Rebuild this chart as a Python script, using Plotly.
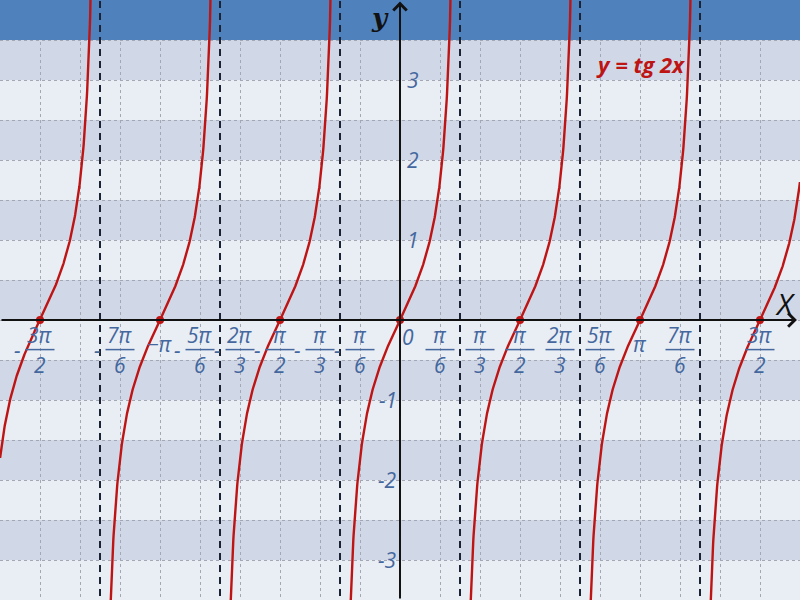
import numpy as np
import plotly.graph_objects as go

PI = np.pi

# values
x_min, x_max = -5 * PI / 3, 5 * PI / 3
y_min, y_max = -3.5, 4.0
zeros_x = [-3 * PI / 2, -PI, -PI / 2, 0, PI / 2, PI, 3 * PI / 2]
asymptotes_x = [-5 * PI / 4, -3 * PI / 4, -PI / 4, PI / 4, 3 * PI / 4, 5 * PI / 4]
y_ticks = [-3, -2, -1, 1, 2, 3]
frac_pos = [-3 / 2, -7 / 6, -5 / 6, -2 / 3, -1 / 2, -1 / 3, -1 / 6,
            1 / 6, 1 / 3, 1 / 2, 2 / 3, 5 / 6, 7 / 6, 3 / 2]
frac_num = ["3π", "7π", "5π", "2π", "π", "π", "π", "π", "π", "π", "2π", "5π", "7π", "3π"]
frac_den = ["2", "6", "6", "3", "2", "3", "6", "6", "3", "2", "3", "6", "6", "2"]
pi_pos = [-1, 1]
pi_text = ["−π", "π"]

RED = "#BE1414"
BLUE_TXT = "#44679E"
DARK_BAND = "#D0D8E8"
LIGHT_BAND = "#E9EDF4"
HEADER = "#4F81BD"
GRID = "#A3A8B4"

# y = tg 2x, one branch per period
xs, ys = [], []
edges = [x_min] + asymptotes_x + [x_max]
for a, b in zip(edges[:-1], edges[1:]):
    t = np.linspace(a + 1e-3, b - 1e-3, 400)
    v = np.tan(2 * t)
    keep = np.abs(v) < 6
    xs += list(t[keep]) + [None]
    ys += list(v[keep]) + [None]

fig = go.Figure()
fig.add_trace(go.Scatter(x=xs, y=ys, mode="lines",
                         line=dict(color=RED, width=2.4), hoverinfo="skip"))
fig.add_trace(go.Scatter(x=zeros_x, y=[0] * len(zeros_x), mode="markers",
                         marker=dict(color=RED, size=8), hoverinfo="skip"))

shapes = []
# striped background
for k in range(-7, 7):
    lo = k * 0.5
    if k % 2 == 0:
        shapes.append(dict(type="rect", xref="x", yref="y", x0=x_min - 1, x1=x_max + 1,
                           y0=lo, y1=lo + 0.5, fillcolor=DARK_BAND, line_width=0, layer="below"))
shapes.append(dict(type="rect", xref="x", yref="y", x0=x_min - 1, x1=x_max + 1,
                   y0=3.5, y1=y_max + 1, fillcolor=HEADER, line_width=0, layer="between"))
for a in asymptotes_x:
    shapes.append(dict(type="line", xref="x", yref="y", x0=a, x1=a, y0=y_min - 1, y1=y_max + 1,
                       line=dict(color="#1B2233", width=2, dash="7px,5px"), layer="between"))

annotations = []
# axes with arrows
annotations.append(dict(x=x_max - 0.04, y=0, ax=x_min, ay=0, xref="x", yref="y",
                        axref="x", ayref="y", text="", showarrow=True, arrowhead=4,
                        arrowsize=1.3, arrowwidth=2, arrowcolor="#111111"))
annotations.append(dict(x=0, y=y_max - 0.02, ax=0, ay=y_min, xref="x", yref="y",
                        axref="x", ayref="y", text="", showarrow=True, arrowhead=4,
                        arrowsize=1.3, arrowwidth=2, arrowcolor="#111111"))
annotations.append(dict(x=-0.26, y=3.77, text="<b><i>y</i></b>", showarrow=False,
                        font=dict(family="DejaVu Serif", size=26, color="#111111")))
annotations.append(dict(x=5.04, y=0.21, text="<i>X</i>", showarrow=False,
                        font=dict(family="Open Sans", size=30, color="#111111")))
annotations.append(dict(x=PI, y=3.2, text="<b><i>y = tg 2x</i></b>", showarrow=False,
                        font=dict(family="Open Sans", size=22, color=RED)))
annotations.append(dict(x=0.1, y=-0.21, text="<i>0</i>", showarrow=False,
                        font=dict(family="Open Sans", size=21, color=BLUE_TXT)))

for v in y_ticks:
    annotations.append(dict(x=0.17 if v > 0 else -0.16, y=v, text="<i>%d</i>" % v,
                            showarrow=False,
                            font=dict(family="Open Sans", size=21, color=BLUE_TXT)))

lab_font = dict(family="Open Sans", size=21, color=BLUE_TXT)
for p, n, d in zip(frac_pos, frac_num, frac_den):
    cx = p * PI
    annotations.append(dict(x=cx, y=-0.19, text="<i>%s</i>" % n, showarrow=False, font=lab_font))
    annotations.append(dict(x=cx, y=-0.56, text="<i>%s</i>" % d, showarrow=False, font=lab_font))
    shapes.append(dict(type="line", xref="x", yref="y", x0=cx - 0.19, x1=cx + 0.19,
                       y0=-0.37, y1=-0.37, line=dict(color=BLUE_TXT, width=1.5), layer="above"))
    if p < 0:
        annotations.append(dict(x=cx - 0.3, y=-0.37, text="<i>-</i>", showarrow=False,
                                font=lab_font))
for p, t in zip(pi_pos, pi_text):
    annotations.append(dict(x=p * PI, y=-0.3, text="<i>%s</i>" % t, showarrow=False,
                            font=lab_font))

fig.update_layout(
    width=800, height=600, margin=dict(l=0, r=0, t=0, b=0),
    plot_bgcolor=LIGHT_BAND, paper_bgcolor=LIGHT_BAND,
    showlegend=False, shapes=shapes, annotations=annotations,
    xaxis=dict(range=[x_min, x_max], tickmode="linear", tick0=0, dtick=PI / 6,
               showticklabels=False, showgrid=True, gridcolor=GRID, griddash="dot",
               gridwidth=1, zeroline=False, showline=False),
    yaxis=dict(range=[y_min, y_max], tickmode="linear", tick0=0, dtick=0.5,
               showticklabels=False, showgrid=True, gridcolor=GRID, griddash="dot",
               gridwidth=1, zeroline=False, showline=False),
)

fig.write_html("out.html", config={"displayModeBar": False},
               post_script="document.body.style.margin='0';")
